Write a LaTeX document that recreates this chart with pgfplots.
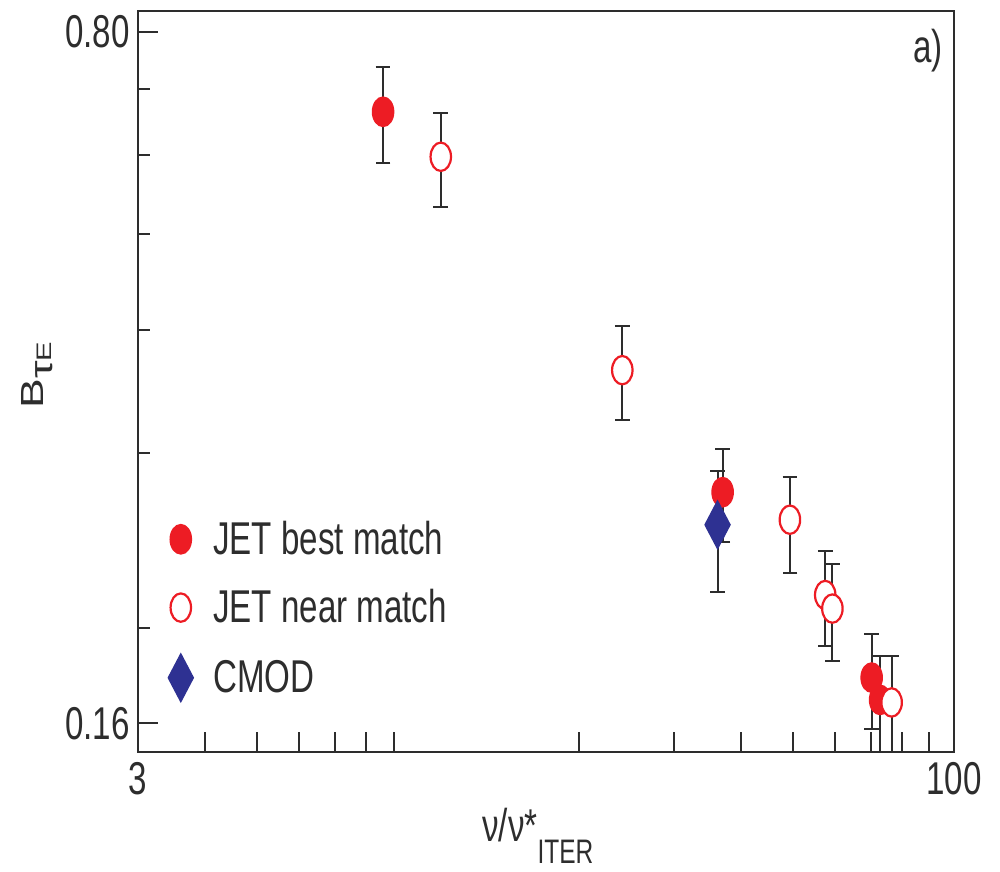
\documentclass[border=0pt]{standalone}
\usepackage{fontspec}
\setmainfont[FakeStretch=0.72]{Liberation Sans}
\newfontfamily\ylabfont[FakeStretch=1.39]{Liberation Sans}
\usepackage{pgfplots}
\usepackage{pgfplotstable}
\pgfplotsset{compat=1.18}
\definecolor{jetred}{RGB}{237,28,36}
\definecolor{cmodblue}{RGB}{46,49,146}
\definecolor{axgray}{RGB}{45,45,45}

\pgfplotstableread{
x y ep em
8.60 0.664 0.073 0.075
37.0 0.274 0.029 0.030
70.2 0.178 0.019 0.020
72.8 0.169 0.018 0.020
}\best

\pgfplotstableread{
x y ep em
11.02 0.598 0.064 0.066
24.04 0.364 0.039 0.040
49.4 0.257 0.027 0.030
57.5 0.2157 0.023 0.024
59.3 0.209 0.023 0.024
76.5 0.168 0.019 0.020
}\near

\pgfplotstableread{
x y ep em
36.2 0.254 0.034 0.037
}\cmod

\begin{document}
\begin{tikzpicture}
\useasboundingbox (-69pt,-60pt) rectangle (431pt,375.85pt);
\begin{loglogaxis}[
  at={(0pt,0pt)}, anchor=south west,
  scale only axis, width=408pt, height=370.5pt,
  xmin=3, xmax=100, ymin=0.1498, ymax=0.840,
  xtick={3,4,5,6,7,8,9,20,30,40,50,60,70,80,90,100},
  xticklabels={3,,,,,,,,,,,,,,,100},
  ytick={0.16,0.8}, yticklabels={0.16,0.80},
  minor ytick={0.2,0.3,0.4,0.5,0.6,0.7},
  tick pos=left, tick align=inside,
  major tick length=10pt, minor tick length=6pt,
  axis line style={axgray, line width=1pt},
  every tick/.style={axgray, line width=1pt},
  tick label style={font=\fontsize{23}{23}\selectfont, text=axgray},
  yticklabel style={anchor=east, inner sep=0pt, xshift=-4pt},
  xticklabel style={anchor=north, inner sep=0pt, yshift=-5pt},
  xlabel={ν/ν*\raisebox{-11pt}{\fontsize{17}{17}\selectfont ITER}},
  xlabel style={at={(axis description cs:0.4216,-0.1215)}, anchor=base west, inner sep=0pt, font=\fontsize{23}{23}\selectfont, text=axgray},
  ylabel={B\raisebox{-4.5pt}{τ}\raisebox{-4pt}{\fontsize{10.5}{10.5}\selectfont E}},
  ylabel style={at={(axis description cs:-0.1232,0.508)}, anchor=center, inner sep=0pt, font=\ylabfont\fontsize{16}{16}\selectfont, text=axgray},
  legend style={draw=none, fill=none, at={(axis description cs:0.0245,0.192)}, anchor=west,
    font=\fontsize{23}{23}\selectfont, text=axgray, row sep=12pt},
  legend cell align=left,
  legend image code/.code={\path (-8pt,0pt) (14pt,0pt); \draw[#1] plot coordinates {(0pt,0pt)};},
  error bars/y dir=both, error bars/y explicit,
  error bars/error bar style={axgray, line width=1pt},
  error bars/error mark options={axgray, line width=1pt, mark size=3.7pt, rotate=90},
]
\addplot[only marks, mark=*, mark size=7.3pt, mark options={xscale=0.72, fill=jetred, draw=jetred, line width=0.8pt}]
  table[x=x, y=y, y error plus=ep, y error minus=em] {\best};
\addlegendentry{JET best match}
\addplot[only marks, mark=*, mark size=7.1pt, mark options={xscale=0.72, fill=white, draw=jetred, line width=1.1pt}]
  table[x=x, y=y, y error plus=ep, y error minus=em] {\near};
\addlegendentry{JET near match}
\addplot[only marks, mark=diamond*, mark size=12pt, mark options={xscale=0.7, fill=cmodblue, draw=cmodblue, line width=0.6pt}]
  table[x=x, y=y, y error plus=ep, y error minus=em] {\cmod};
\addlegendentry{CMOD}
\node[anchor=north east, inner sep=0pt, font=\fontsize{23}{23}\selectfont, text=axgray] at ([xshift=-5.5pt,yshift=-8.8pt]rel axis cs:1,1) {a)};
\end{loglogaxis}
\end{tikzpicture}
\end{document}
